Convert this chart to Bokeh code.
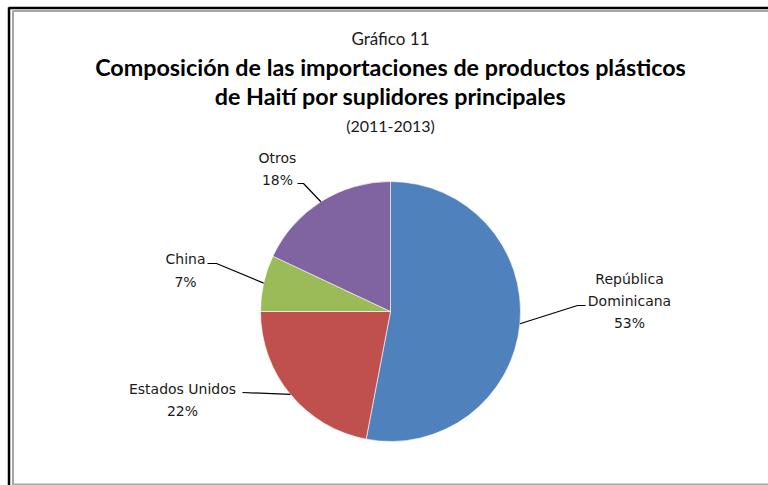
import math
from bokeh.plotting import figure
from bokeh.models import Range1d, ColumnDataSource
from bokeh.core.properties import value
from bokeh.embed import file_html
from bokeh.resources import INLINE

# ---- data ----
categories = ["República Dominicana", "Estados Unidos", "China", "Otros"]
shares = [53, 22, 7, 18]
label_lines = [["República", "Dominicana", "53%"], ["Estados Unidos", "22%"], ["China", "7%"], ["Otros", "18%"]]
colors = ["#4F81BD", "#C0504D", "#9BBB59", "#8064A2"]

W, H = 768, 485
def X(px):
    return px
def Y(py):
    return H - py

p = figure(width=W, height=H, output_backend="svg", toolbar_location=None,
           x_range=Range1d(0, W), y_range=Range1d(0, H),
           x_axis_location=None, y_axis_location=None, min_border=0)
p.grid.visible = False
p.outline_line_color = None
p.background_fill_color = "white"
p.border_fill_color = "white"

# frame decorations
p.segment(x0=[X(8), X(8.5)], y0=[Y(7.5), Y(7)], x1=[X(768), X(8.5)], y1=[Y(7.5), Y(485)],
          line_color="#000000", line_width=2.5)
p.segment(x0=[X(12), X(12.5), X(12)], y0=[Y(10.5), Y(10), Y(484)], x1=[X(768), X(12.5), X(768)],
          y1=[Y(10.5), Y(485), Y(484)], line_color="#A6A6A6", line_width=2)

# pie
cx, cy, r = X(390), Y(311), 130
total = sum(shares)
starts_cw, ends_cw = [], []
acc = 0.0
for s in shares:
    starts_cw.append(acc / total * 360)
    acc += s
    ends_cw.append(acc / total * 360)
start_angle = [math.radians(90 - e) for e in ends_cw]
end_angle = [math.radians(90 - s) for s in starts_cw]
src = ColumnDataSource(dict(start=start_angle, end=end_angle, color=colors, cat=categories))
p.wedge(x=cx, y=cy, radius=r, start_angle="start", end_angle="end",
        fill_color="color", line_color="white", line_width=0.6, source=src)

# leader lines
elbows = [(X(577), Y(305)), (X(242), Y(392)), (X(216), Y(263)), (X(303), Y(183))]
label_ends = [(X(585), Y(305)), (X(242), Y(392)), (X(207), Y(263)), (X(297), Y(183))]
for i in range(len(shares)):
    mid = math.radians(90 - (starts_cw[i] + ends_cw[i]) / 2)
    ex, ey = cx + r * math.cos(mid), cy + r * math.sin(mid)
    bx, by = elbows[i]
    lx, ly = label_ends[i]
    p.line(x=[ex, bx, lx], y=[ey, by, ly], line_color="black", line_width=1.2)

# data labels
label_pos = [(X(629), [Y(278), Y(300), Y(322)]), (X(182), [Y(388), Y(410)]),
             (X(185), [Y(258), Y(281)]), (X(277), [Y(157), Y(179)])]
for (lx, ys), lines in zip(label_pos, label_lines):
    p.text(x=[lx] * len(lines), y=ys, text=lines, text_align="center", text_baseline="middle",
           text_font=value("DejaVu Sans"), text_font_size="14px", text_color="#1a1a1a")

# titles
p.text(x=[X(390)], y=[Y(38)], text=["Gráfico 11"], text_align="center", text_baseline="middle",
       text_font=value("Lato"), text_font_size="17px", text_color="#1a1a1a")
p.text(x=[X(390), X(390)], y=[Y(66), Y(95)],
       text=["Composición de las importaciones de productos plásticos", "de Haití por suplidores principales"],
       text_align="center", text_baseline="middle",
       text_font=value("Lato"), text_font_size="23.3px", text_font_style="bold", text_color="#000000")
p.text(x=[X(390)], y=[Y(125)], text=["(2011-2013)"], text_align="center", text_baseline="middle",
       text_font=value("Lato"), text_font_size="16px", text_color="#1a1a1a")

open("out.html", "w").write(file_html(p, INLINE))
